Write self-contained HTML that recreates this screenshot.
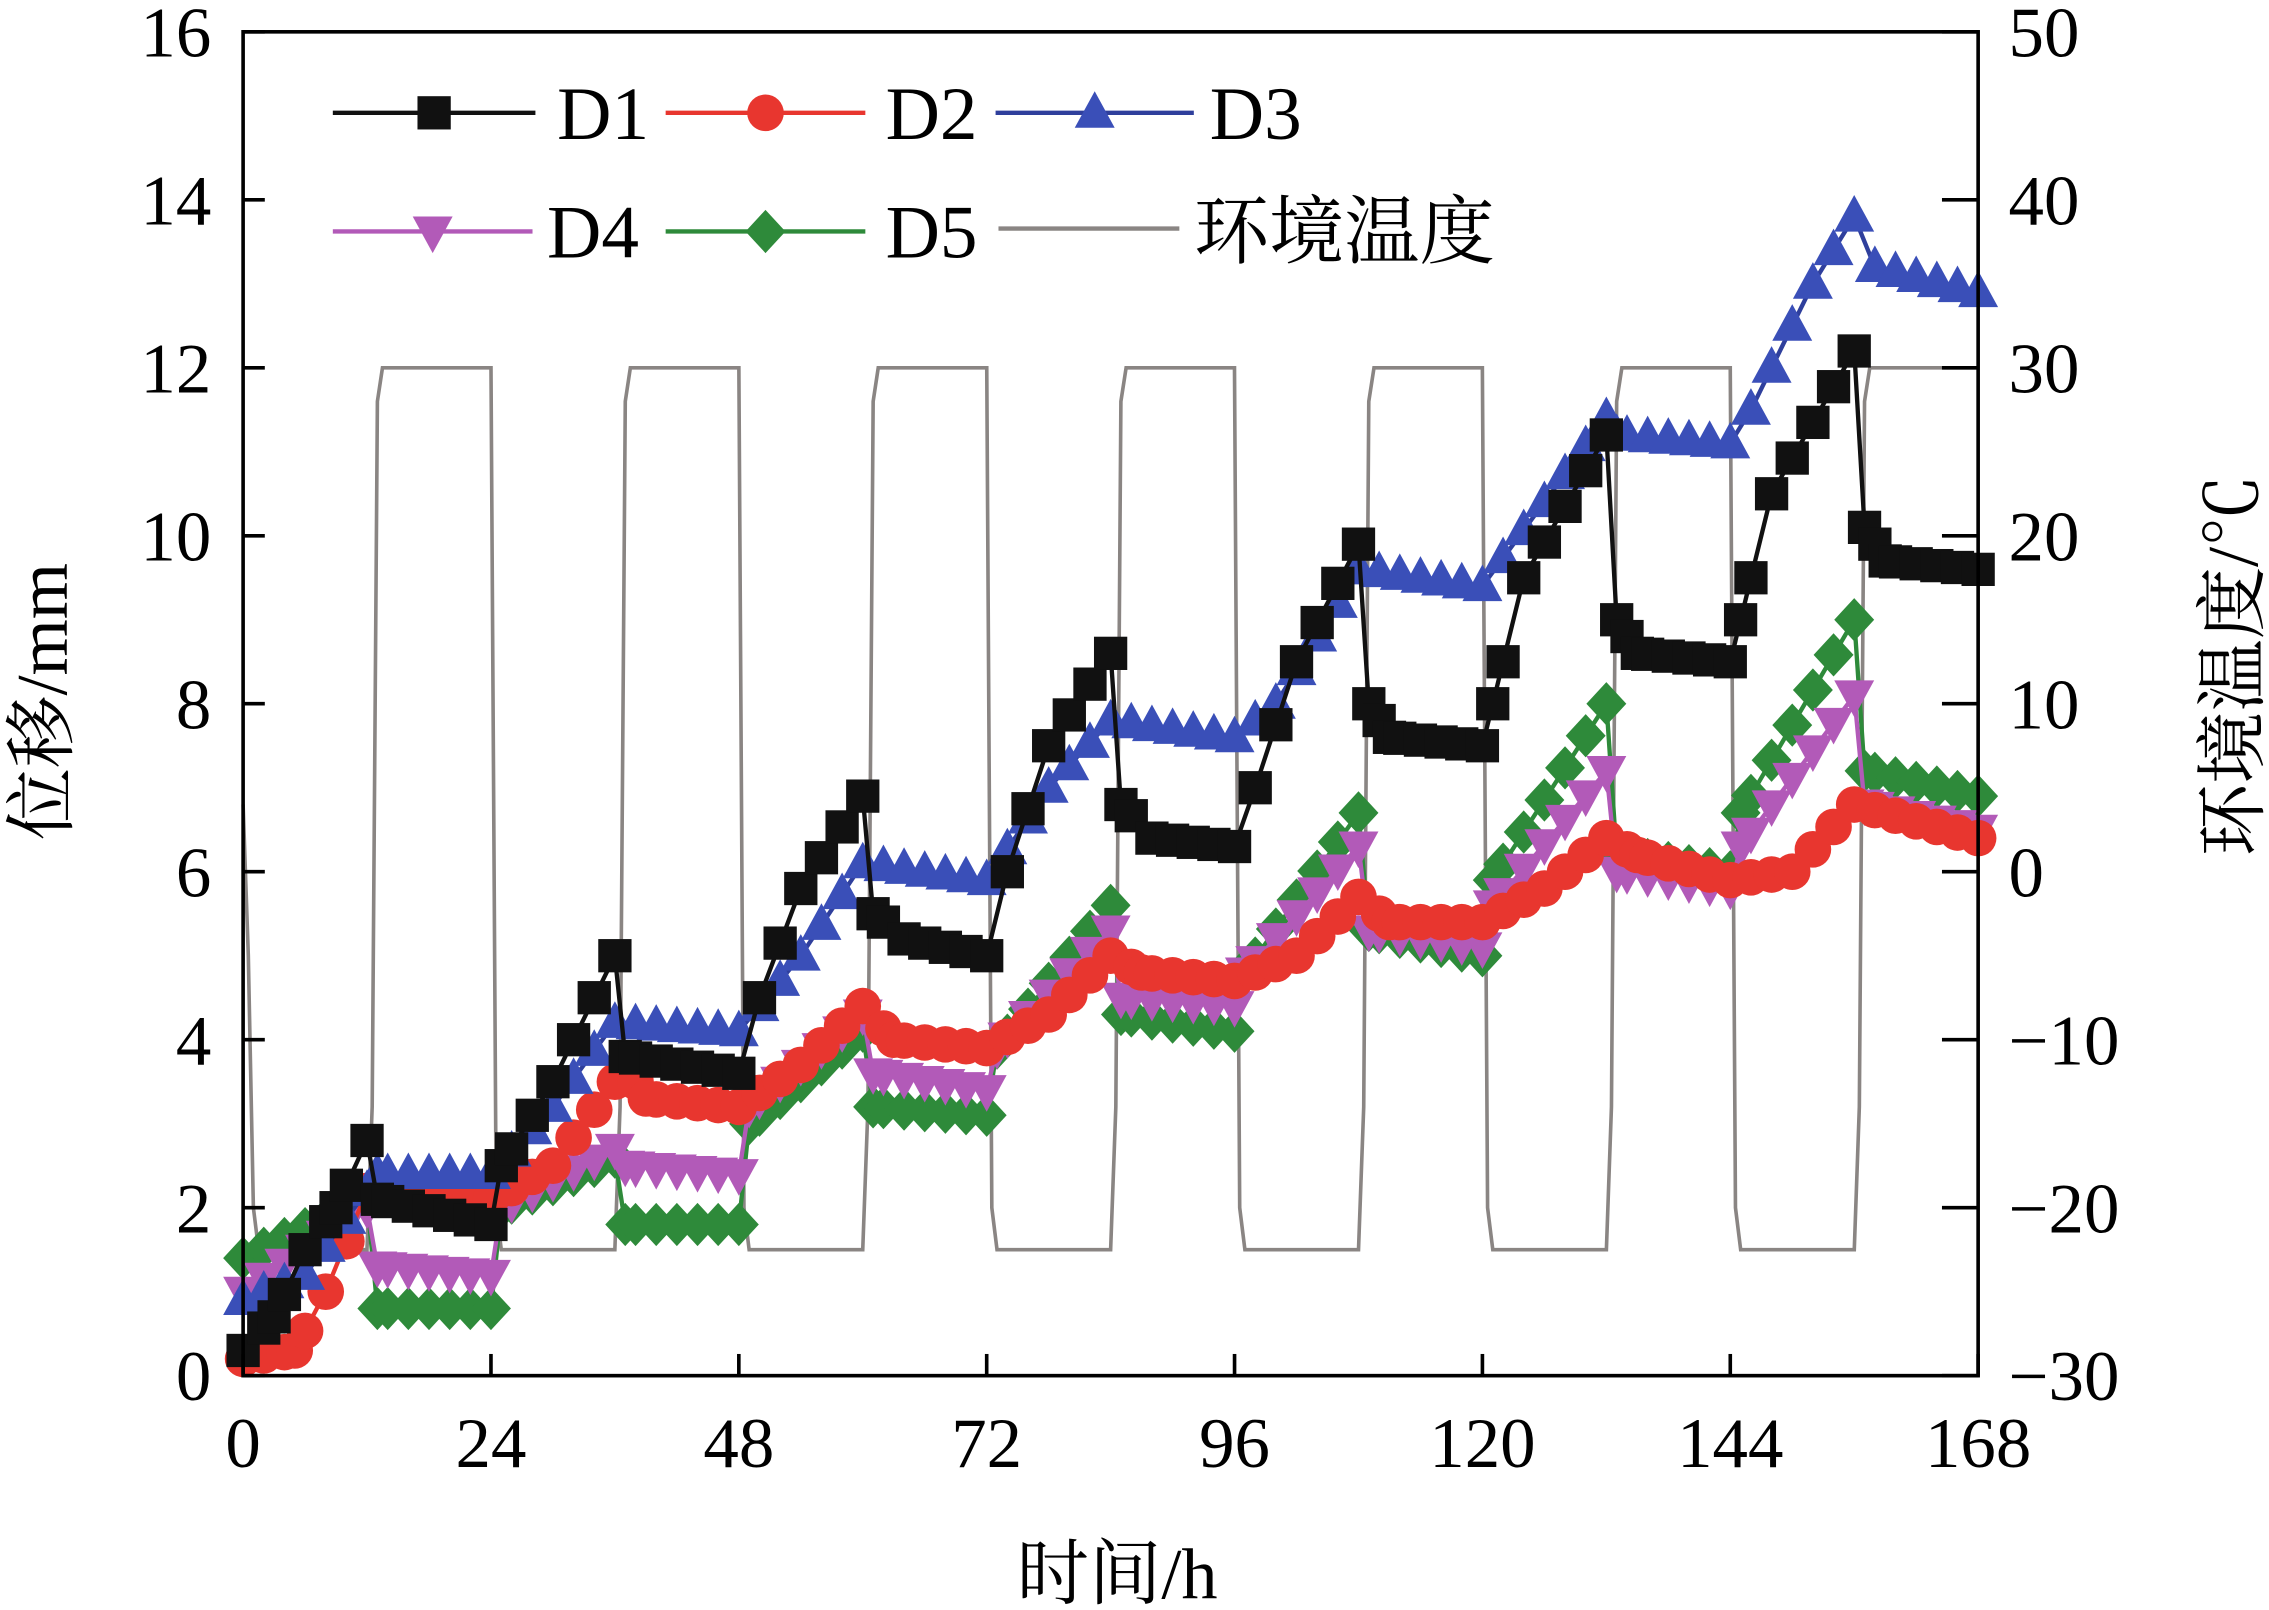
<!DOCTYPE html>
<html><head><meta charset="utf-8">
<style>html,body{margin:0;padding:0;background:#fff;}svg{display:block}</style>
</head><body>
<svg id="s" width="2269" height="1610" viewBox="0 0 1568 1113" preserveAspectRatio="none" xmlns="http://www.w3.org/2000/svg">
<rect x="0" y="0" width="1568" height="1113" fill="#fff"/>
<g id="temp"></g>
<g id="series"></g>
<rect x="168" y="22" width="1199" height="929" fill="none" stroke="#000" stroke-width="2.5"/>
<g id="ticks" stroke="#000" stroke-width="2.5"></g>
<g id="labels" font-family="Liberation Serif, serif" font-size="49" fill="#000"></g>
<text x="772" y="1105" font-family="Liberation Serif, 'Noto Serif CJK SC', serif" font-size="50" text-anchor="middle">时间/h</text>
<text transform="translate(46,485) rotate(-90)" font-family="Liberation Serif, 'Noto Serif CJK SC', serif" font-size="50" text-anchor="middle">位移/mm</text>
<text transform="translate(1560,460) rotate(-90)" font-family="Liberation Serif, 'Noto Serif CJK SC', serif" font-size="50" text-anchor="middle">环境温度/℃</text>
<g id="legend" font-family="Liberation Serif, 'Noto Serif CJK SC', serif" font-size="52"></g>
</svg>
<script>
var NS="http://www.w3.org/2000/svg";
function el(p,t,a,txt){var e=document.createElementNS(NS,t);for(var k in a)e.setAttribute(k,a[k]);if(txt!==undefined)e.textContent=txt;document.getElementById(p).appendChild(e);return e;}
function X(h){return 168+h*1199/168;}
function Y(v){return 951-v*929/16;}
function YT(t){return 951-(t+30)*929/80;}
for(var v=0;v<=16;v+=2){var y=Y(v);el("ticks","line",{x1:168,y1:y,x2:183,y2:y});el("labels","text",{x:146,y:y+17,"text-anchor":"end"},String(v));}
for(var t=-30;t<=50;t+=10){var y=YT(t);el("ticks","line",{x1:1367,y1:y,x2:1342,y2:y});el("labels","text",{x:1388,y:y+17},(t<0?"\u2212":"")+Math.abs(t));}
for(var h=0;h<=168;h+=24){var x=X(h);el("ticks","line",{x1:x,y1:951,x2:x,y2:936});el("labels","text",{x:x,y:1014,"text-anchor":"middle"},String(h));}
var tp=[[0,4],[0.5,-5],[1,-20],[1.5,-22.5],[12,-22.5],[12.5,-14],[13,28],[13.5,30],[24,30],[24.5,-20],[25,-22.5]];
for(var c=1;c<7;c++){var b=c*24;tp.push([b+12,-22.5],[b+12.5,-14],[b+13,28],[b+13.5,30],[b+24,30]);if(c<6)tp.push([b+24.5,-20],[b+25,-22.5]);}
var d="";tp.forEach(function(p,i){d+=(i?"L":"M")+X(p[0]).toFixed(1)+","+YT(p[1]).toFixed(1);});
el("temp","path",{d:d,fill:"none",stroke:"#8a8583","stroke-width":2.5});
var S={
D1:[[0,0.3],[3,0.7],[6,1.5],[9,2.0],[12,2.8],[13,2.1],[24,1.8],[25,2.5],[30,3.5],[36,5.0],[37,3.8],[48,3.6],[50,4.5],[54,5.8],[60,6.9],[61,5.5],[64,5.2],[72,5.0],[74,6.0],[78,7.5],[84,8.6],[85,6.8],[88,6.4],[96,6.3],[98,7.0],[102,8.5],[108,9.9],[109,8.0],[111,7.6],[120,7.5],[121,8.0],[124,9.5],[132,11.2],[133,9.0],[135,8.6],[144,8.5],[145,9.0],[148,10.5],[156,12.2],[157,10.1],[159,9.7],[168,9.6]],
D3:[[0,0.9],[6,1.2],[12,2.2],[13,2.4],[24,2.4],[30,3.2],[36,4.2],[48,4.1],[54,5.0],[60,6.1],[72,5.9],[78,7.0],[84,7.8],[96,7.6],[100,8.0],[108,9.6],[120,9.4],[132,11.4],[133,11.2],[144,11.1],[146,11.5],[152,13.0],[156,13.8],[158,13.2],[168,12.9]],
D2:[[0,0.2],[5,0.3],[8,1.0],[12,2.2],[24,2.1],[30,2.5],[36,3.5],[37,3.7],[39,3.3],[48,3.2],[54,3.7],[60,4.4],[63,4.0],[72,3.9],[78,4.3],[84,5.0],[87,4.8],[96,4.7],[102,5.0],[108,5.7],[111,5.4],[120,5.4],[126,5.8],[132,6.4],[135,6.2],[144,5.9],[150,6.0],[156,6.8],[168,6.4]],
D4:[[0,1.0],[12,2.0],[13,1.3],[24,1.2],[25,2.0],[36,2.7],[37,2.5],[48,2.4],[49,3.2],[60,4.3],[61,3.6],[72,3.4],[73,3.9],[84,5.3],[85,4.5],[96,4.4],[97,4.8],[108,6.3],[109,5.3],[120,5.1],[121,5.6],[132,7.2],[133,6.0],[144,5.8],[145,6.3],[156,8.1],[157,6.8],[168,6.5]],
D5:[[0,1.4],[12,2.1],[13,0.8],[24,0.8],[25,2.0],[36,2.6],[37,1.8],[48,1.8],[49,3.0],[60,4.1],[61,3.2],[72,3.1],[73,3.9],[84,5.6],[85,4.3],[96,4.1],[97,4.8],[108,6.7],[109,5.3],[120,5.0],[121,5.9],[132,8.0],[133,6.2],[144,6.0],[145,6.7],[156,9.0],[157,7.2],[168,6.9]]};
var ST={D1:{c:"#111",m:"sq"},D2:{c:"#e8362f",m:"ci"},D3:{c:"#2f3f9c",m:"tu",f:"#3a4fb8"},D4:{c:"#b25ab8",m:"td"},D5:{c:"#2e8a3a",m:"di"}};
function interp(p,h){for(var i=1;i<p.length;i++){if(h<=p[i][0]){var a=p[i-1],b=p[i];return a[1]+(b[1]-a[1])*(h-a[0])/(b[0]-a[0]);}}return p[p.length-1][1];}
var K=1.15;
function marker(g,m,x,y,col){
 if(m=="sq")el(g,"rect",{x:x-10*K,y:y-10*K,width:20*K,height:20*K,fill:col});
 else if(m=="ci")el(g,"circle",{cx:x,cy:y,r:11*K,fill:col});
 else if(m=="tu")el(g,"polygon",{points:(x)+","+(y-13*K)+" "+(x-12*K)+","+(y+9*K)+" "+(x+12*K)+","+(y+9*K),fill:col});
 else if(m=="td")el(g,"polygon",{points:(x)+","+(y+13*K)+" "+(x-12*K)+","+(y-9*K)+" "+(x+12*K)+","+(y-9*K),fill:col});
 else el(g,"polygon",{points:x+","+(y-13*K)+" "+(x+12*K)+","+y+" "+x+","+(y+13*K)+" "+(x-12*K)+","+y,fill:col});
}
["D5","D4","D2","D3","D1"].forEach(function(k){
 var p=S[k],st=ST[k],dd="";
 p.forEach(function(q,i){dd+=(i?"L":"M")+X(q[0]).toFixed(1)+","+Y(q[1]).toFixed(1);});
 el("series","path",{d:dd,fill:"none",stroke:st.c,"stroke-width":3});
 var hs={};p.forEach(function(q){hs[q[0]]=1;});
 for(var h=0;h<=168;h+=2)hs[h]=1;
 Object.keys(hs).map(Number).sort(function(a,b){return a-b}).forEach(function(h){marker("series",st.m,X(h),Y(interp(p,h)),st.f||st.c);});
});
function leg(x1,x2,y,k,tx,txt){var st=ST[k];el("legend","line",{x1:x1,y1:y,x2:x2,y2:y,stroke:st.c,"stroke-width":3});marker("legend",st.m,(x1+x2)/2,y,st.f||st.c);el("legend","text",{x:tx,y:y+18},txt);}
leg(230,370,78,"D1",385,"D1");leg(460,598,78,"D2",612,"D2");leg(688,825,78,"D3",836,"D3");
leg(230,368,160,"D4",378,"D4");leg(460,598,160,"D5",612,"D5");
el("legend","line",{x1:690,y1:158,x2:815,y2:158,stroke:"#8a8583","stroke-width":3});
el("legend","text",{x:825,y:178},"环境温度");
</script>
</body></html>
